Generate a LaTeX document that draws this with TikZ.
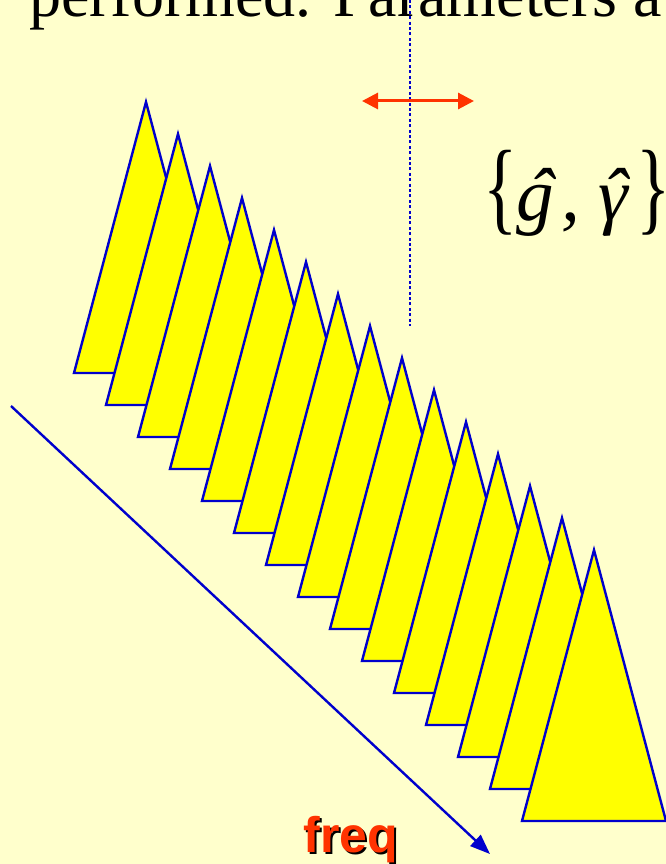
\documentclass[tikz,border=0pt]{standalone}
\usepackage{fontspec}
\setmainfont{Liberation Serif}
\setsansfont{Liberation Sans}
\usepackage{graphicx}
\usetikzlibrary{arrows.meta}
\definecolor{bgyellow}{HTML}{FFFFCC}
\definecolor{wedgeyellow}{HTML}{FFFF00}
\definecolor{lineblue}{HTML}{0000CC}
\definecolor{freqred}{HTML}{FF3300}
\newcommand{\hatted}[2][0pt]{\ooalign{#2\cr\hidewidth\hspace{#1}ˆ\hidewidth\cr}}
\newcommand{\tallbrace}[1]{\raisebox{-1pt}{\scalebox{0.95}[1.37]{#1}}}

\begin{document}
\begin{tikzpicture}[
  x=1pt, y=-1pt,
  wedge/.style={draw=lineblue, fill=wedgeyellow, line width=2.4pt},
  shiftarrow/.style={{Triangle[length=16pt,width=16pt]}-{Triangle[length=16pt,width=16pt]}, line width=3pt, freqred},
  freqarrow/.style={-{Triangle[length=20pt,width=15pt]}, line width=2.4pt, lineblue},
  centreline/.style={lineblue, line width=2.6pt, dash pattern=on 3pt off 2.4pt},
  plain/.style={anchor=base west, inner sep=0pt}
]
\useasboundingbox (0,0) rectangle (666,864);
\fill[bgyellow] (0,0) rectangle (666,864);
\clip (0,0) rectangle (666,864);

% running text cut off at the top
\node[plain, font=\fontsize{64}{64}\selectfont] (caption) at (29,17) {performed. Parameters a};

% stack of filters along the frequency axis
\foreach \i in {0,...,14}
  \draw[wedge] (146+32*\i,102+32*\i) -- ++(-72,271) -- ++(144,0) -- cycle;

\draw[centreline] (410,0) -- (410,326);

\coordinate (shiftleft) at (362,101);
\coordinate (shiftright) at (474,101);
\draw[shiftarrow] (shiftleft) -- (shiftright);

\node[plain, font=\fontsize{75}{75}\selectfont] (params) at (482,220)
  {\makebox[36pt]{\tallbrace{\{}}\makebox[34pt]{\itshape\hatted[12pt]{g}}\makebox[38pt]{\itshape,}\makebox[46pt]{\itshape\hatted[4pt]{γ}}\makebox[28pt]{\hspace{6pt}\tallbrace{\}}}};

% frequency axis
\coordinate (axisstart) at (11,406);
\coordinate (axisend) at (490,854);
\draw[freqarrow] (axisstart) -- (axisend);

\node[anchor=base, inner sep=0pt, font=\sffamily\bfseries\fontsize{50}{50}\selectfont, black] (freqshadow) at (353,854) {freq};
\node[anchor=base, inner sep=0pt, font=\sffamily\bfseries\fontsize{50}{50}\selectfont, freqred] (freq) at (351,852) {freq};
\end{tikzpicture}
\end{document}
